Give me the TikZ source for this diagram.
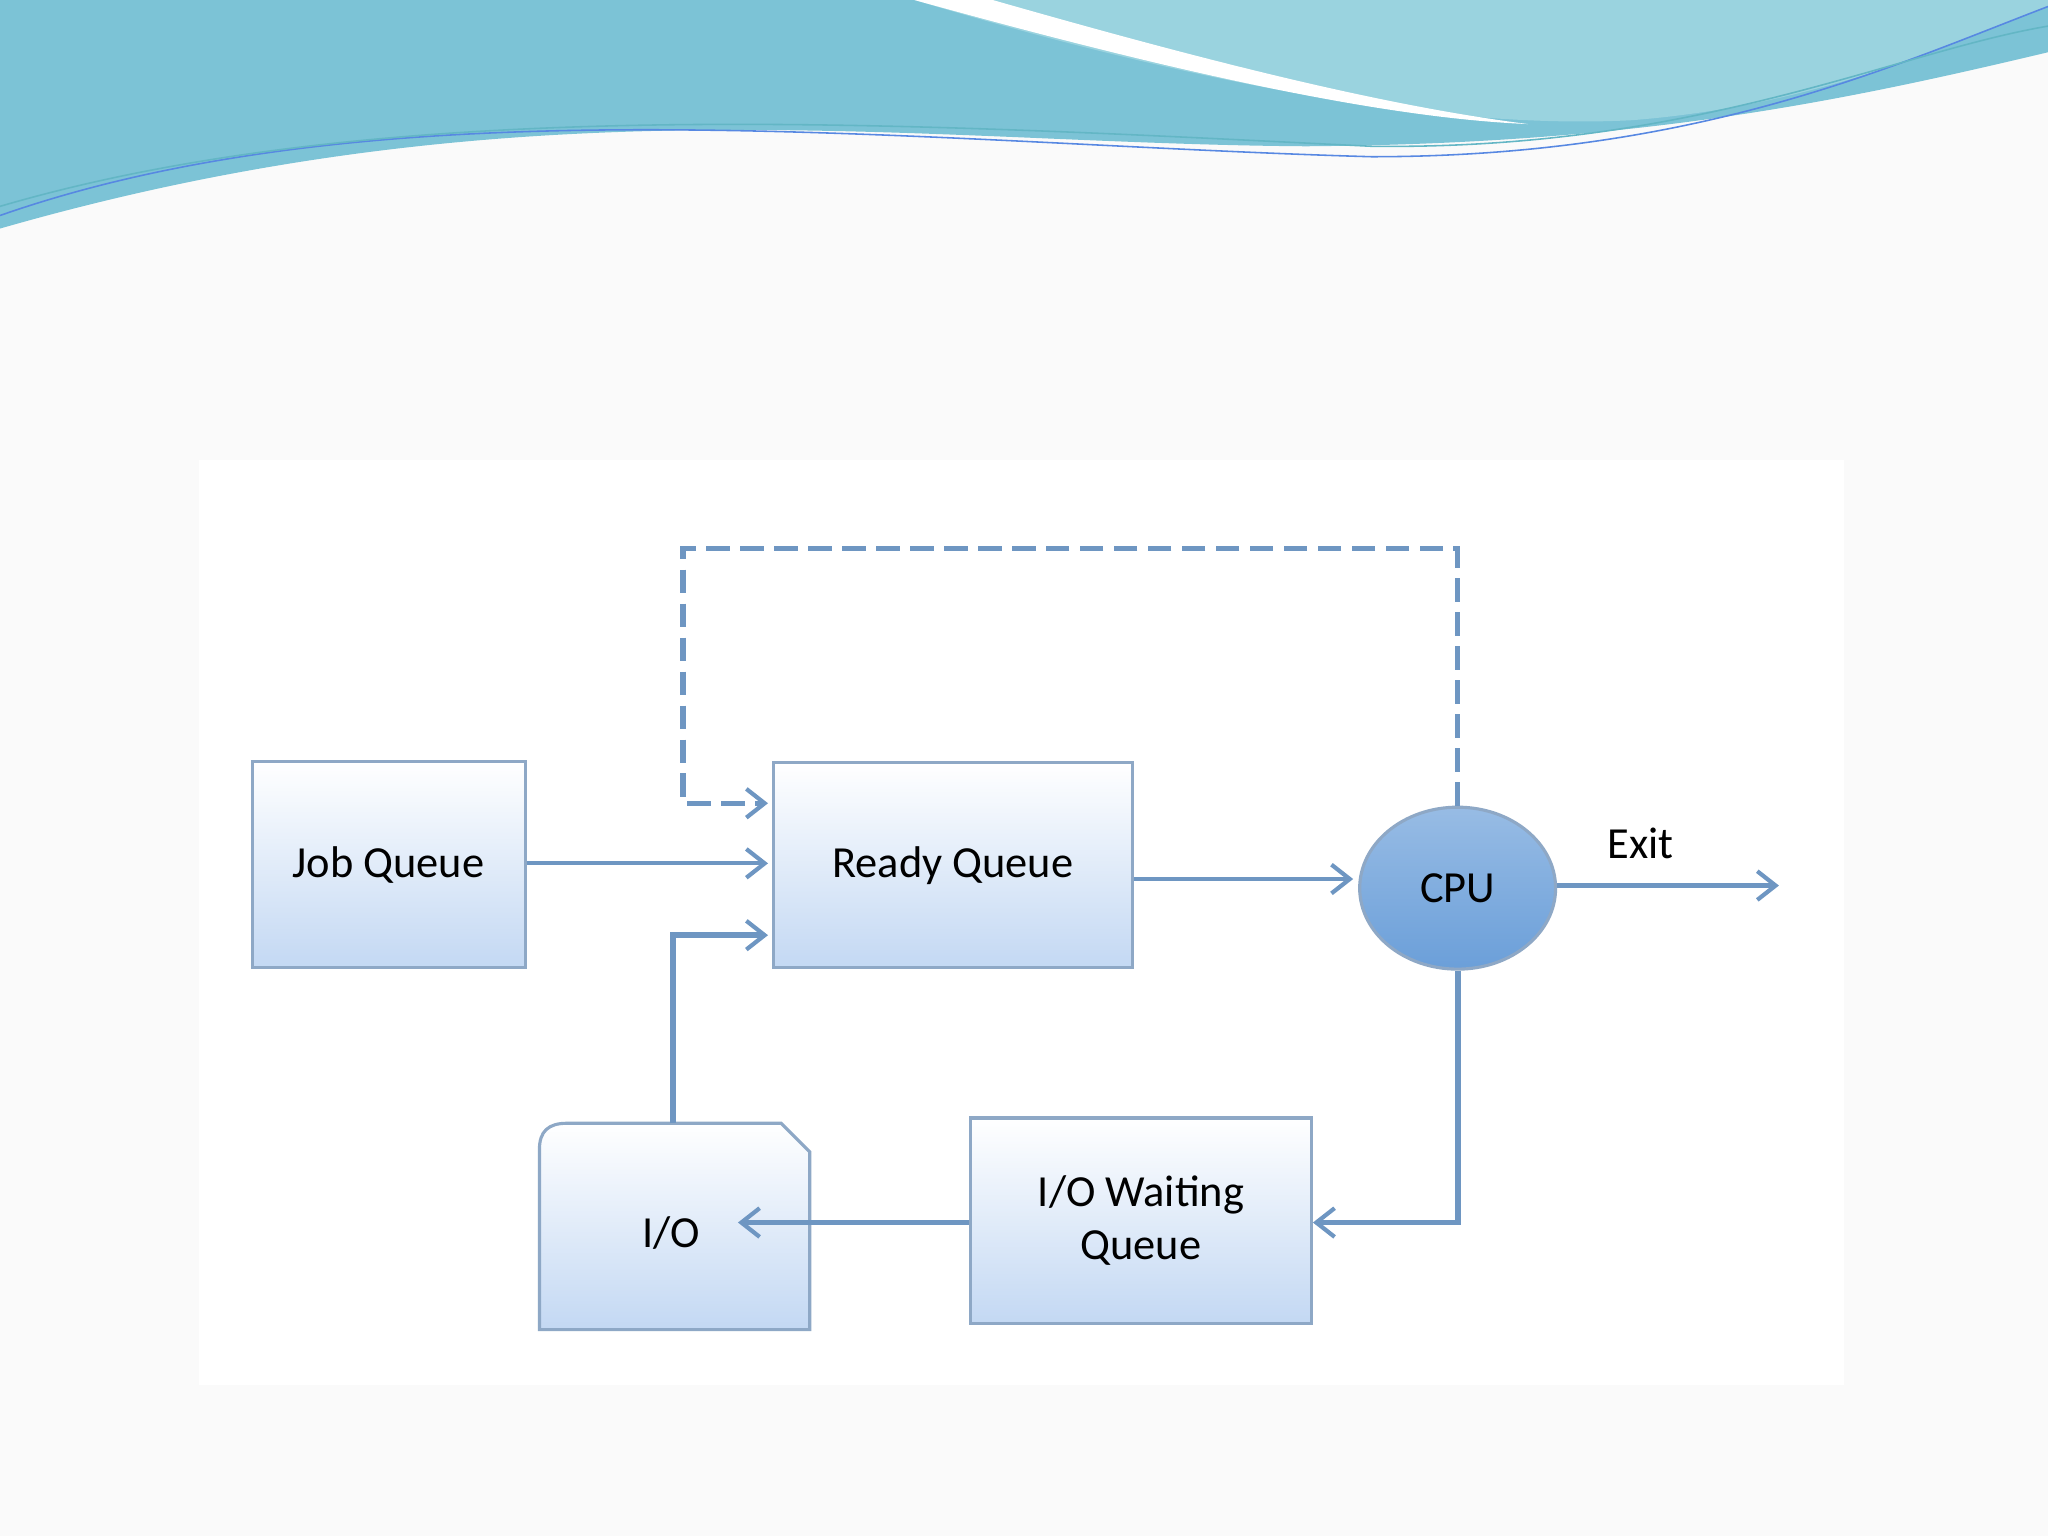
\documentclass[tikz,border=0pt]{standalone}
\usepackage{fontspec}
\setmainfont{Carlito}
\usetikzlibrary{arrows.meta,shapes.geometric}
\definecolor{arr}{HTML}{6E96C2}
\definecolor{boxedge}{HTML}{8EA8C6}
\definecolor{boxlo}{HTML}{C3D8F3}
\definecolor{cpufill}{HTML}{6B9FD9}
\definecolor{wave}{HTML}{7CC3D6}
\definecolor{wave2}{HTML}{9AD3DF}
\begin{document}
\begin{tikzpicture}[x=0.5pt,y=-0.5pt,
  box/.style={draw=boxedge,line width=1.2pt,top color=white,bottom color=boxlo,
    minimum width=#1,inner sep=0pt,font=\fontsize{17}{20}\selectfont,align=center},
  con/.style={draw=arr,line width=1.6pt,-{Straight Barb[length=7pt,width=11pt,line width=1.6pt]}}]
\useasboundingbox (0,0) rectangle (1568,1176);
\fill[white!96!gray] (0,0) rectangle (1568,1176);
% banner
\fill[wave] (0,0) -- (1568,0) -- (1568,40) .. controls (1400,80) and (1250,110) .. (1000,112)
  .. controls (700,110) and (400,60) .. (0,175) -- cycle;
\fill[wave2] (700,0) .. controls (900,60) and (1100,100) .. (1250,92) .. controls (1400,80) and (1500,30) .. (1568,5) -- (1568,0) -- cycle;
\fill[white] (700,0) .. controls (880,50) and (1050,90) .. (1170,95) .. controls (1050,80) and (900,40) .. (760,0) -- cycle;
\draw[wave!70!blue,line width=0.6pt] (0,165) .. controls (300,60) and (700,110) .. (1050,120) .. controls (1300,120) and (1450,50) .. (1568,5);
\draw[wave!80!teal,line width=0.6pt] (0,158) .. controls (300,70) and (700,95) .. (1050,112) .. controls (1300,115) and (1450,40) .. (1568,20);
% diagram panel
\fill[white] (152,352) rectangle (1412,1060);
\node[box=104.5pt,minimum height=79pt] (job) at (297.5,662) {Job Queue};
\node[box=137.5pt,minimum height=78.5pt] (ready) at (729.5,662.5) {Ready Queue};
\node[ellipse,draw=boxedge,line width=1.2pt,top color=cpufill!70!white,bottom color=cpufill,
  minimum width=75pt,minimum height=62pt,inner sep=0pt,font=\fontsize{17}{20}\selectfont] (cpu) at (1116,680) {CPU};
\node[box=130.5pt,minimum height=78.5pt] (iowq) at (873.5,934.5) {I/O Waiting\\Queue};
\draw[boxedge,line width=1.2pt,top color=white,bottom color=boxlo]
  (413,1018) -- (413,880) .. controls (413,866) and (420,860) .. (434,860) -- (598,860) -- (620,882) -- (620,1018) -- cycle;
\node[font=\fontsize{17}{20}\selectfont] (io) at (514,944) {I/O};
\node[font=\fontsize{17}{20}\selectfont] (exitl) at (1256,646) {Exit};
\coordinate (exit) at (1362,678);
% connectors
\draw[con] (job.east |- 0,661) -- (588,661);
\draw[con] (ready.east |- 0,673) -- (1036,673);
\draw[con] (cpu.east |- 0,678) -- (exit);
\draw[con,dash pattern=on 9pt off 4pt,line width=2pt] (cpu.north) -- (1116,420) -- (523,420) -- (523,615) -- (588,615);
\draw[con,line width=2.2pt] (cpu.south) -- (1116,936) -- (iowq.east |- 0,936);
\draw[con] (iowq.west |- 0,936) -- (565,936);
\draw[con,line width=2.2pt] (515,860) -- (515,716) -- (588,716);
\end{tikzpicture}
\end{document}
